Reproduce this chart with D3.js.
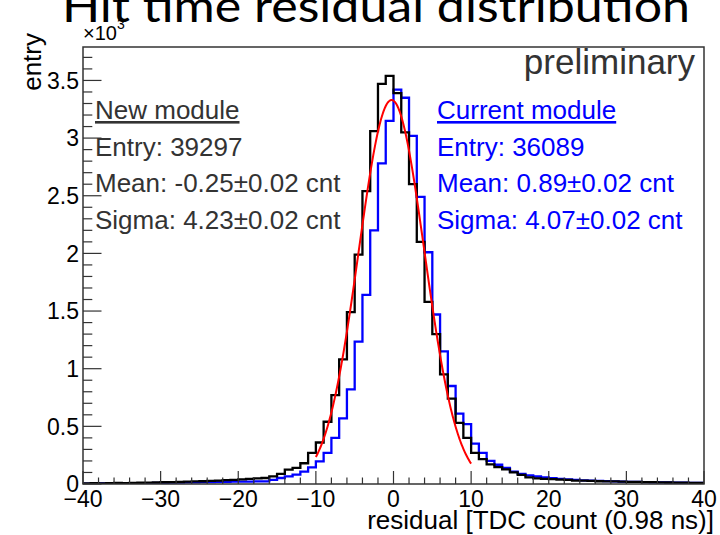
<!DOCTYPE html>
<html>
<head>
<meta charset="utf-8">
<script src="https://cdn.jsdelivr.net/npm/d3@7"></script>
<style>
  body { margin: 0; background: #fff; }
  text { font-family: "Liberation Sans", Arial, sans-serif; }
</style>
</head>
<body>
<svg id="chart" width="720" height="535"></svg>
<script>
// histogram binning: 80 bins of 1 TDC count from -40 to 40
var xMin = -40, xMax = 40, binWidth = 1;

// New module (black), entries per bin, bins -40..39
var newModule = [
  6, 7, 6, 8, 9, 8, 10, 11, 12, 13,
  15, 16, 18, 20, 22, 24, 27, 30, 33, 36,
  40, 44, 48, 52, 66, 87, 124, 140, 180, 270,
  360, 540, 770, 1080, 1490, 1990, 2540, 3060, 3470, 3540,
  3390, 3050, 2600, 2100, 1580, 1300, 950, 740, 530, 400,
  270, 215, 170, 147, 127, 100, 80, 57, 49, 45,
  43, 38, 36, 30, 29, 27, 24, 23, 22, 20,
  19, 18, 16, 16, 14, 13, 12, 12, 10, 10
];

// Current module (blue), bins -40..39
var currentModule = [
  4, 4, 5, 5, 6, 6, 7, 8, 8, 9,
  11, 12, 13, 14, 15, 16, 17, 18, 19, 20,
  20, 21, 22, 23, 35, 52, 66, 81, 107, 144,
  196, 270, 400, 570, 820, 1235, 1640, 2200, 2780, 3150,
  3420, 3350, 3020, 2490, 2010, 1470, 1150, 850, 610, 520,
  350, 270, 200, 167, 139, 107, 87, 75, 65, 57,
  50, 45, 40, 36, 32, 29, 27, 25, 23, 21,
  19, 18, 16, 15, 14, 13, 12, 11, 10, 9
];

// gaussian fit to new module
var fitAmp = 3330, fitMean = -0.25, fitSigma = 4.23;
var fitRange = [-10, 10];

var newLegend = ["New module", "Entry: 39297", "Mean: -0.25\u00b10.02 cnt", "Sigma: 4.23\u00b10.02 cnt"];
var curLegend = ["Current module", "Entry: 36089", "Mean: 0.89\u00b10.02 cnt", "Sigma: 4.07\u00b10.02 cnt"];

var xTicks = [-40, -30, -20, -10, 0, 10, 20, 30, 40];
var yTicks = [0, 500, 1000, 1500, 2000, 2500, 3000, 3500];

var svg = d3.select("#chart");
var L = 83, R = 704, T = 47, B = 484;

var x = d3.scaleLinear().domain([xMin, xMax]).range([L, R]);
var y = d3.scaleLinear().domain([0, 3790]).range([B, T]);

// slide title (cut at top)
svg.append("text")
  .attr("x", 62).attr("y", 22)
  .attr("textLength", 628).attr("lengthAdjust", "spacingAndGlyphs")
  .style("font-family", "Lato, 'Open Sans', sans-serif")
  .style("font-size", "44px")
  .text("Hit time residual distribution");

svg.append("clipPath").attr("id", "plotclip")
  .append("rect").attr("x", L).attr("y", T).attr("width", R - L).attr("height", B - T);

var g = svg.append("g").attr("clip-path", "url(#plotclip)");

function stepPath(vals) {
  var pts = [];
  vals.forEach(function(v, i) {
    var x0 = xMin + i * binWidth;
    pts.push([x(x0), y(v)]);
    pts.push([x(x0 + binWidth), y(v)]);
  });
  return d3.line()(pts);
}

g.append("path").attr("d", stepPath(currentModule))
  .attr("fill", "none").attr("stroke", "#0000ff").attr("stroke-width", 2.3);
g.append("path").attr("d", stepPath(newModule))
  .attr("fill", "none").attr("stroke", "#000").attr("stroke-width", 2.3);

var fitPts = d3.range(fitRange[0], fitRange[1] + 0.001, 0.1).map(function(u) {
  return [x(u), y(fitAmp * Math.exp(-(u - fitMean) * (u - fitMean) / (2 * fitSigma * fitSigma)))];
});
g.append("path").attr("d", d3.line()(fitPts))
  .attr("fill", "none").attr("stroke", "#ff0000").attr("stroke-width", 2);

// frame
svg.append("rect").attr("x", L).attr("y", T).attr("width", R - L).attr("height", B - T)
  .attr("fill", "none").attr("stroke", "#333").attr("stroke-width", 1.5);

// x axis ticks
var xAx = svg.append("g");
d3.range(xMin, xMax + 0.001, 2).forEach(function(v) {
  var major = v % 10 === 0;
  xAx.append("line").attr("x1", x(v)).attr("x2", x(v))
    .attr("y1", B).attr("y2", B - (major ? 13 : 6.5))
    .attr("stroke", "#333").attr("stroke-width", 1.2);
});
xAx.selectAll("text.xl").data(xTicks).enter().append("text")
  .attr("x", function(d) { return x(d); }).attr("y", 507)
  .attr("text-anchor", "middle").style("font-size", "23px")
  .text(function(d) { return d < 0 ? "\u2212" + Math.abs(d) : d; });

svg.append("text").attr("x", 714).attr("y", 529)
  .attr("text-anchor", "end").style("font-size", "26px")
  .text("residual [TDC count (0.98 ns)]");

// y axis ticks
var yAx = svg.append("g");
d3.range(0, 3701, 100).forEach(function(v) {
  var major = v % 500 === 0;
  yAx.append("line").attr("x1", L).attr("x2", L + (major ? 18.5 : 9.3))
    .attr("y1", y(v)).attr("y2", y(v))
    .attr("stroke", "#333").attr("stroke-width", 1.2);
});
yAx.selectAll("text.yl").data(yTicks).enter().append("text")
  .attr("x", 79).attr("y", function(d) { return y(d) + 8.3; })
  .attr("text-anchor", "end").style("font-size", "23px")
  .text(function(d) { return d3.format("")(d / 1000); });

var ex = svg.append("text").attr("x", 83).attr("y", 40).style("font-size", "20px");
ex.append("tspan").text("\u00d710");
ex.append("tspan").attr("dy", -11).style("font-size", "14px").text("3");

svg.append("text")
  .attr("transform", "translate(41,33) rotate(-90)")
  .attr("text-anchor", "end").style("font-size", "26px")
  .text("entry");

// annotations
svg.append("text").attr("x", 695).attr("y", 74)
  .attr("text-anchor", "end").attr("fill", "#333").style("font-size", "35px")
  .text("preliminary");

function legend(lines, x0, color) {
  lines.forEach(function(s, i) {
    svg.append("text").attr("x", x0).attr("y", 119 + i * 36.5)
      .attr("fill", color).style("font-size", "26px")
      .style("text-decoration", i === 0 ? "underline" : "none")
      .text(s);
  });
}
legend(newLegend, 95, "#333");
legend(curLegend, 437, "#0000ff");
</script>
</body>
</html>
